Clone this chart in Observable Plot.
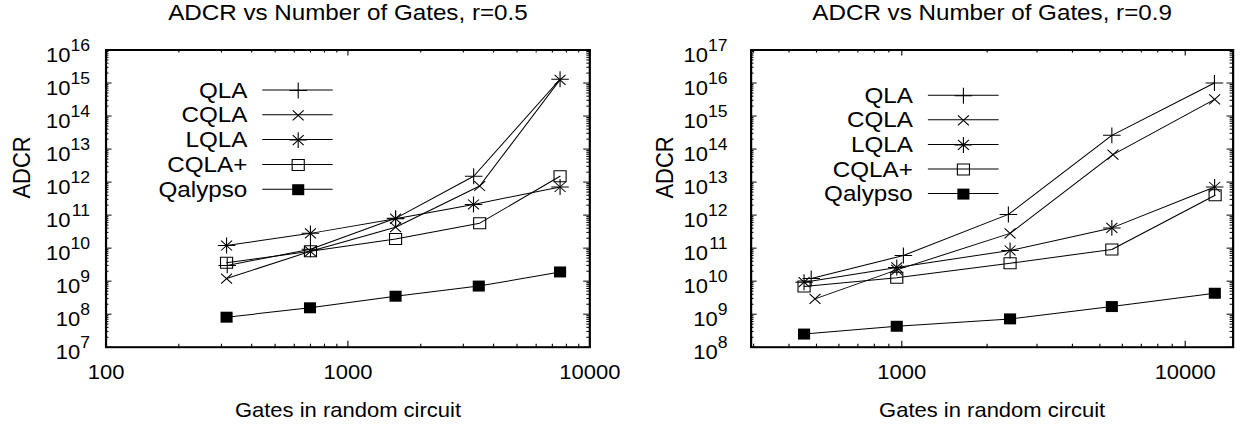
<!DOCTYPE html>
<html><head><meta charset="utf-8">
<script src="https://cdn.jsdelivr.net/npm/d3@7"></script>
<script src="https://cdn.jsdelivr.net/npm/@observablehq/plot@0.6"></script>
<style>
html,body{margin:0;padding:0;background:#fff;}
#wrap{display:flex;width:1241px;height:428px;overflow:hidden;background:#fff;}
</style></head><body><div id="wrap"></div>
<script>
// ---------- data ----------
const seriesNames = ["QLA", "CQLA", "LQLA", "CQLA+", "Qalypso"];

// panel 1: r = 0.5
const gates05_QLA     = [317, 700, 1574, 3310, 7534];
const gates05_CQLA    = [315, 700, 1574, 3505, 7534];
const gates05_LQLA    = [315, 700, 1574, 3305, 7534];
const gates05_CQLAp   = [315, 700, 1574, 3505, 7534];
const gates05_Qalypso = [315, 697, 1574, 3475, 7534];
const adcr05_QLA     = [3.0e9, 9.2e9, 8.0e10, 1.5e12, 1.3e15];
const adcr05_CQLA    = [1.2e9, 8.0e9, 4.3e10, 7.6e11, 1.25e15];
const adcr05_LQLA    = [1.2e10, 2.8e10, 7.8e10, 2.1e11, 7.1e11];
const adcr05_CQLAp   = [3.6e9, 8.0e9, 1.9e10, 5.7e10, 1.5e12];
const adcr05_Qalypso = [8.1e7, 1.56e8, 3.5e8, 7.1e8, 1.9e9];

// panel 2: r = 0.9
const gates09_QLA     = [479, 1013, 2377, 5510, 12680];
const gates09_CQLA    = [494, 960, 2410, 5560, 12700];
const gates09_LQLA    = [452, 960, 2410, 5510, 12700];
const gates09_CQLAp   = [452, 960, 2410, 5510, 12750];
const gates09_Qalypso = [452, 960, 2410, 5510, 12720];
const adcr09_QLA     = [1.2e10, 6.0e10, 1.05e12, 2.6e14, 1.0e16];
const adcr09_CQLA    = [2.9e9, 2.2e10, 2.8e11, 6.8e13, 3.2e15];
const adcr09_LQLA    = [9.3e9, 2.6e10, 8.5e10, 4.1e11, 7.1e12];
const adcr09_CQLAp   = [6.9e9, 1.26e10, 3.5e10, 9.1e10, 4.0e12];
const adcr09_Qalypso = [2.5e8, 4.3e8, 7.2e8, 1.7e9, 4.3e9];

// ticks
const xTicks05 = [100, 1000, 10000];
const xTicks09 = [1000, 10000];
const yExps05 = [7, 8, 9, 10, 11, 12, 13, 14, 15, 16];
const yExps09 = [8, 9, 10, 11, 12, 13, 14, 15, 16, 17];

const titles = ["ADCR vs Number of Gates, r=0.5", "ADCR vs Number of Gates, r=0.9"];
const xTitle = "Gates in random circuit";
const yTitle = "ADCR";

// ---------- drawing ----------
const S = 1.1, W = 564, H = 428, MT = 49.5, MB = 81.3;
const symbolSpec = {
  "QLA": [["plus", 5.2]],
  "CQLA": [["times", 4.6]],
  "LQLA": [["plus", 5.2], ["times", 4.6]],
  "CQLA+": [["square2", 7]],
  "Qalypso": [["square", 6.2]]
};
const FONT = "'Liberation Sans', Arial, Helvetica, sans-serif";
const SUP = 16, SUPW = 0.556 * SUP;

function rowsFor(gatesList, adcrList) {
  return seriesNames.flatMap((s, i) => gatesList[i].map((g, j) => ({series: s, gates: g, adcr: adcrList[i][j]})));
}

function dotMarks(data, symbol, r, opts) {
  const filled = symbol === "square";
  return Plot.dot(data, {
    ...opts, symbol, r,
    fill: filled ? "black" : "none",
    stroke: filled ? "none" : "black",
    strokeWidth: 1
  });
}

function panel(cfg) {
  const rows = rowsFor(cfg.gates, cfg.adcr);
  const plotW = W - cfg.marginLeft - cfg.marginRight;
  const plotH = H - MT - MB;
  const yMajor = cfg.yExps.map(e => 10 ** e);
  const yMinor = cfg.yExps.slice(0, -1).flatMap(e => d3.range(2, 10).map(k => k * 10 ** e));
  const lo = Math.floor(Math.log10(cfg.xDomain[0])), hi = Math.ceil(Math.log10(cfg.xDomain[1]));
  const xMinor = d3.range(lo, hi).flatMap(e => d3.range(2, 10).map(k => k * 10 ** e))
    .filter(v => v > cfg.xDomain[0] && v < cfg.xDomain[1]);

  const marks = [
    Plot.line(rows, {x: "gates", y: "adcr", z: "series", stroke: "black", strokeWidth: 1})
  ];
  for (const s of seriesNames) {
    for (const [sym, r] of symbolSpec[s]) {
      marks.push(dotMarks(rows.filter(d => d.series === s), sym, r, {x: "gates", y: "adcr"}));
    }
  }
  marks.push(
    Plot.tickY(yMajor, {y: d => d, insetRight: plotW - 5.5, stroke: "black"}),
    Plot.tickY(yMajor, {y: d => d, insetLeft: plotW - 5.5, stroke: "black"}),
    Plot.tickY(yMinor, {y: d => d, insetRight: plotW - 2.7, stroke: "black"}),
    Plot.tickY(yMinor, {y: d => d, insetLeft: plotW - 2.7, stroke: "black"}),
    Plot.tickX(cfg.xTicks, {x: d => d, insetTop: plotH - 6, stroke: "black"}),
    Plot.tickX(cfg.xTicks, {x: d => d, insetBottom: plotH - 6, stroke: "black"}),
    Plot.tickX(xMinor, {x: d => d, insetTop: plotH - 3, stroke: "black"}),
    Plot.tickX(xMinor, {x: d => d, insetBottom: plotH - 3, stroke: "black"}),
    Plot.frame({stroke: "black", strokeWidth: 2})
  );
  const e1 = cfg.yExps.filter(e => e < 10), e2 = cfg.yExps.filter(e => e >= 10);
  const T = {fill: "black", lineAnchor: "middle"};
  marks.push(
    Plot.text(e2, {...T, y: e => 10 ** e, text: () => "10", frameAnchor: "left", textAnchor: "end", dx: cfg.labelEnd - 2 * SUPW, dy: 5.5, fontSize: 20}),
    Plot.text(e1, {...T, y: e => 10 ** e, text: () => "10", frameAnchor: "left", textAnchor: "end", dx: cfg.labelEnd - SUPW, dy: 5.5, fontSize: 20}),
    Plot.text(cfg.yExps, {...T, y: e => 10 ** e, text: e => String(e), frameAnchor: "left", textAnchor: "end", dx: cfg.labelEnd, dy: -4.5, fontSize: SUP}),
    Plot.text(cfg.xTicks, {...T, x: d => d, text: d => String(d), frameAnchor: "bottom", dy: 25, fontSize: 20}),
    Plot.text([xTitle], {...T, text: d => d, frameAnchor: "bottom", dy: 63, fontSize: 20}),
    Plot.text([yTitle], {...T, text: d => d, frameAnchor: "left", dx: cfg.yTitleDx, rotate: -90, fontSize: 22}),
    Plot.text([cfg.title], {...T, text: d => d, frameAnchor: "top", dy: -37, fontSize: 22})
  );
  seriesNames.forEach((s, i) => {
    const dy = cfg.legY0 + i * cfg.legDy;
    marks.push(Plot.text([s], {...T, text: d => d, frameAnchor: "top-left", dx: cfg.legTextEnd, dy, textAnchor: "end", fontSize: 22}));
    for (const [sym, r] of symbolSpec[s]) {
      marks.push(dotMarks([s], sym, r, {frameAnchor: "top-left", dx: cfg.legSymX, dy}));
    }
  });
  marks.push((index, scales, values, dims) => {
    const g = d3.create("svg:g").attr("stroke", "black").attr("stroke-width", 1);
    seriesNames.forEach((s, i) => {
      const y = dims.marginTop + cfg.legY0 + i * cfg.legDy;
      g.append("line")
        .attr("x1", dims.marginLeft + cfg.legX1).attr("x2", dims.marginLeft + cfg.legX2)
        .attr("y1", y).attr("y2", y);
    });
    return g.node();
  });

  const svg = Plot.plot({
    width: W, height: H,
    marginLeft: cfg.marginLeft, marginRight: cfg.marginRight, marginTop: MT, marginBottom: MB,
    x: {type: "log", domain: cfg.xDomain, axis: null},
    y: {type: "log", domain: [10 ** cfg.yExps[0], 10 ** cfg.yExps[cfg.yExps.length - 1]], axis: null},
    style: {fontFamily: FONT, background: "white", color: "black", overflow: "visible"},
    marks
  });
  svg.setAttribute("viewBox", `0 0 ${W} ${H}`);
  svg.setAttribute("preserveAspectRatio", "none");
  svg.setAttribute("width", W * S);
  svg.setAttribute("height", H);
  svg.style.width = (W * S) + "px";
  svg.style.height = H + "px";
  svg.style.maxWidth = "none";
  svg.style.flex = "none";
  return svg;
}

const wrap = document.getElementById("wrap");
wrap.appendChild(panel({
  gates: [gates05_QLA, gates05_CQLA, gates05_LQLA, gates05_CQLAp, gates05_Qalypso],
  adcr: [adcr05_QLA, adcr05_CQLA, adcr05_LQLA, adcr05_CQLAp, adcr05_Qalypso],
  xDomain: [100, 10000], xTicks: xTicks05, yExps: yExps05, title: titles[0],
  marginLeft: 95.9, marginRight: 28.3,
  labelEnd: -14.5, yTitleDx: -75.9,
  legTextEnd: 128.4, legX1: 142.5, legX2: 206.5, legSymX: 174.7, legY0: 40.5, legDy: 24.8
}));
wrap.appendChild(panel({
  gates: [gates09_QLA, gates09_CQLA, gates09_LQLA, gates09_CQLAp, gates09_Qalypso],
  adcr: [adcr09_QLA, adcr09_CQLA, adcr09_LQLA, adcr09_CQLAp, adcr09_Qalypso],
  xDomain: [294, 14760], xTicks: xTicks09, yExps: yExps09, title: titles[1],
  marginLeft: 118.7, marginRight: 7.1,
  labelEnd: -21.5, yTitleDx: -78.2,
  legTextEnd: 147, legX1: 161.2, legX2: 225.5, legSymX: 193, legY0: 45.7, legDy: 24.6
}));
</script></body></html>
